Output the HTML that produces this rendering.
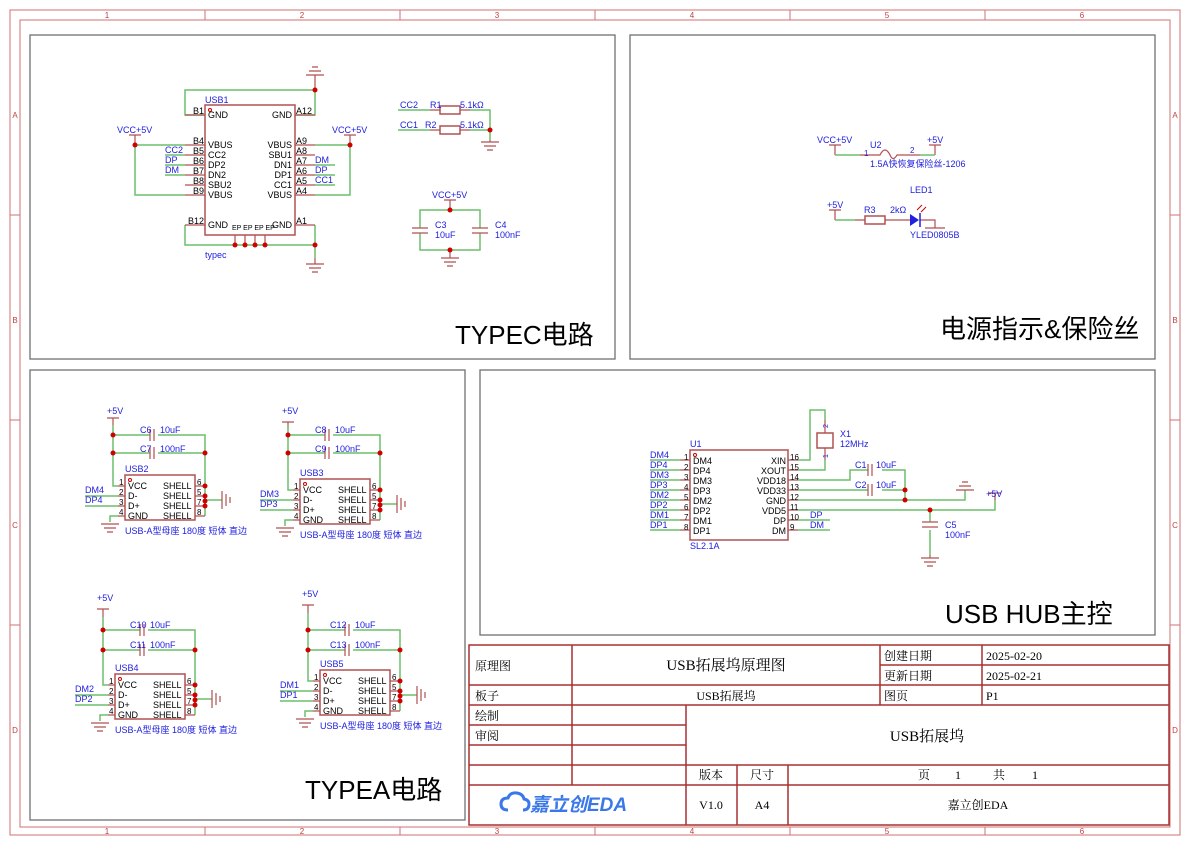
<!DOCTYPE html>
<html><head><meta charset="utf-8"><style>
html,body{margin:0;padding:0;background:#fff}
svg{display:block}
text{font-family:"Liberation Sans","Noto Sans CJK SC",sans-serif}
.b{fill:#2020e0;font-size:9px}
.k{fill:#000;font-size:9px}
.w{stroke:#6cbf6c;stroke-width:1.5;fill:none}
.p{stroke:#b05050;stroke-width:1.2;fill:none}
.bx{stroke:#b05050;stroke-width:1.5;fill:#fff}
.j{fill:#d00000}
.g{stroke:#b05050;stroke-width:1.2;fill:none}
.t text{fill:#000;font-family:"Liberation Serif","Noto Serif CJK SC",serif;font-size:12px}
</style></head><body>
<svg width="1190" height="845" viewBox="0 0 1190 845" xmlns="http://www.w3.org/2000/svg">
<rect x="10" y="10" width="1170" height="825" fill="none" stroke="#d07070" stroke-width="1"/>
<rect x="20" y="20" width="1150" height="807" fill="none" stroke="#d07070" stroke-width="1"/>
<g stroke="#d07070" stroke-width="1">
<line x1="205" y1="10" x2="205" y2="20"/><line x1="400" y1="10" x2="400" y2="20"/><line x1="595" y1="10" x2="595" y2="20"/><line x1="790" y1="10" x2="790" y2="20"/><line x1="985" y1="10" x2="985" y2="20"/>
<line x1="205" y1="827" x2="205" y2="835"/><line x1="400" y1="827" x2="400" y2="835"/><line x1="595" y1="827" x2="595" y2="835"/><line x1="790" y1="827" x2="790" y2="835"/><line x1="985" y1="827" x2="985" y2="835"/>
<line x1="10" y1="215" x2="20" y2="215"/><line x1="10" y1="420" x2="20" y2="420"/><line x1="10" y1="625" x2="20" y2="625"/>
<line x1="1170" y1="215" x2="1180" y2="215"/><line x1="1170" y1="420" x2="1180" y2="420"/><line x1="1170" y1="625" x2="1180" y2="625"/>
</g>
<g fill="#c04040" font-size="8" font-family="Liberation Sans,sans-serif" text-anchor="middle">
<text x="107" y="18">1</text><text x="302" y="18">2</text><text x="497" y="18">3</text><text x="692" y="18">4</text><text x="887" y="18">5</text><text x="1082" y="18">6</text>
<text x="107" y="834">1</text><text x="302" y="834">2</text><text x="497" y="834">3</text><text x="692" y="834">4</text><text x="887" y="834">5</text><text x="1082" y="834">6</text>
<text x="15" y="118">A</text><text x="15" y="323">B</text><text x="15" y="528">C</text><text x="15" y="733">D</text>
<text x="1175" y="118">A</text><text x="1175" y="323">B</text><text x="1175" y="528">C</text><text x="1175" y="733">D</text>
</g>
<g fill="none" stroke="#707070" stroke-width="1.3">
<rect x="30" y="35" width="585" height="324"/>
<rect x="630" y="35" width="525" height="324"/>
<rect x="30" y="370" width="435" height="450"/>
<rect x="480" y="370" width="675" height="265"/>
</g>
<g font-size="26" fill="#000">
<text x="455" y="344">TYPEC电路</text>
<text x="940" y="338">电源指示&amp;保险丝</text>
<text x="945" y="623">USB HUB主控</text>
<text x="305" y="799">TYPEA电路</text>
</g>

<g>
<path class="w" d="M315 90 V115 H295 M315 90 H185 V115 H205"/>
<path class="g" d="M315 75 V90 M306 75 H324 M309 71 H321 M312 67 H318"/>
<path class="w" d="M135 145 H185 M135 145 V195 H185 M165 155 H185 M165 165 H185 M165 175 H185"/>
<path class="g" d="M135 135 V145 M129 135 H141"/>
<path class="w" d="M315 145 H350 V195 H315 M315 165 H335 M315 175 H335 M315 185 H335"/>
<path class="g" d="M350 135 V145 M344 135 H356"/>
<path class="w" d="M185 225 V245 H315 V225 H315 M315 245 V258"/>
<path class="g" d="M315 258 V264 M306 264 H324 M309 268 H321 M312 272 H318"/>
<path class="p" d="M185 115 H205 M185 145 H205 M185 155 H205 M185 165 H205 M185 175 H205 M185 185 H205 M185 195 H205 M185 225 H205 M295 115 H315 M295 145 H315 M295 155 H315 M295 165 H315 M295 175 H315 M295 185 H315 M295 195 H315 M295 225 H315 M235 235 V245 M245 235 V245 M255 235 V245 M265 235 V245"/>
<rect class="bx" x="205" y="105" width="90" height="130"/>
<circle cx="210" cy="110" r="1.5" fill="none" stroke="#c00"/>
<g class="j"><circle cx="315" cy="90" r="2.5"/><circle cx="135" cy="145" r="2.5"/><circle cx="350" cy="145" r="2.5"/><circle cx="315" cy="245" r="2.5"/><circle cx="235" cy="245" r="2.5"/><circle cx="245" cy="245" r="2.5"/><circle cx="255" cy="245" r="2.5"/><circle cx="265" cy="245" r="2.5"/></g>
<g class="k"><text x="208" y="118">GND</text><text x="208" y="148">VBUS</text><text x="208" y="158">CC2</text><text x="208" y="168">DP2</text><text x="208" y="178">DN2</text><text x="208" y="188">SBU2</text><text x="208" y="198">VBUS</text><text x="208" y="228">GND</text>
<text x="292" y="118" text-anchor="end">GND</text><text x="292" y="148" text-anchor="end">VBUS</text><text x="292" y="158" text-anchor="end">SBU1</text><text x="292" y="168" text-anchor="end">DN1</text><text x="292" y="178" text-anchor="end">DP1</text><text x="292" y="188" text-anchor="end">CC1</text><text x="292" y="198" text-anchor="end">VBUS</text><text x="292" y="228" text-anchor="end">GND</text>
<text x="193" y="114">B1</text><text x="193" y="144">B4</text><text x="193" y="154">B5</text><text x="193" y="164">B6</text><text x="193" y="174">B7</text><text x="193" y="184">B8</text><text x="193" y="194">B9</text><text x="188" y="224">B12</text>
<text x="296" y="114">A12</text><text x="296" y="144">A9</text><text x="296" y="154">A8</text><text x="296" y="164">A7</text><text x="296" y="174">A6</text><text x="296" y="184">A5</text><text x="296" y="194">A4</text><text x="296" y="224">A1</text>
<text x="232" y="230" font-size="7">EP EP EP EP</text></g>
<g class="b"><text x="205" y="103">USB1</text><text x="205" y="258">typec</text><text x="117" y="133">VCC+5V</text><text x="332" y="133">VCC+5V</text>
<text x="165" y="153">CC2</text><text x="165" y="163">DP</text><text x="165" y="173">DM</text><text x="315" y="163">DM</text><text x="315" y="173">DP</text><text x="315" y="183">CC1</text></g>
<path class="w" d="M398 110 H430 M398 130 H430 M470 110 H490 V130 M470 130 H490 V140"/>
<path class="p" d="M430 110 H440 M460 110 H470 M430 130 H440 M460 130 H470"/>
<rect x="440" y="106" width="20" height="8" class="bx"/><rect x="440" y="126" width="20" height="8" class="bx"/>
<path class="g" d="M490 140 V142 M481 142 H499 M484 146 H496 M487 150 H493"/>
<circle class="j" cx="490" cy="130" r="2.5"/>
<g class="b"><text x="400" y="108">CC2</text><text x="430" y="108">R1</text><text x="460" y="108">5.1kΩ</text><text x="400" y="128">CC1</text><text x="425" y="128">R2</text><text x="460" y="128">5.1kΩ</text></g>
<path class="w" d="M420 228 V210 H480 V228 M420 233 V250 H480 V233"/>
<path class="g" d="M450 200 V210 M444 200 H456 M412 228 H428 M412 233 H428 M472 228 H488 M472 233 H488 M450 250 V258 M441 258 H459 M444 262 H456 M447 266 H453"/>
<circle class="j" cx="450" cy="210" r="2.5"/><circle class="j" cx="450" cy="250" r="2.5"/>
<g class="b"><text x="432" y="198">VCC+5V</text><text x="435" y="228">C3</text><text x="435" y="238">10uF</text><text x="495" y="228">C4</text><text x="495" y="238">100nF</text></g>
</g>

<g>
<path class="g" d="M835 145 V155 M829 145 H841 M935 145 V155 M929 145 H941"/>
<path class="w" d="M835 155 H860 M920 155 H935"/>
<path class="p" d="M860 155 H880 Q885 145 890 155 Q893 162 897 155 H920"/>
<g class="b"><text x="817" y="143">VCC+5V</text><text x="927" y="143">+5V</text><text x="870" y="148">U2</text><text x="864" y="156" font-size="8">1</text><text x="910" y="153" font-size="8">2</text><text x="870" y="167">1.5A快恢复保险丝-1206</text></g>
<path class="g" d="M835 210 V220 M829 210 H841"/>
<path class="w" d="M835 220 H855"/>
<path class="p" d="M855 220 H865 M885 220 H910 M920 220 H935 V228 M925 228 H945"/>
<rect x="865" y="216" width="20" height="8" class="bx"/>
<path d="M910 214 L919 220 L910 226 Z" fill="#2020e0"/><path d="M920 213 V227" stroke="#2020e0" stroke-width="1.5"/>
<path d="M917 210 l5 -5 M921 212 l5 -5" stroke="#c00" stroke-width="1"/>
<g class="b"><text x="827" y="208">+5V</text><text x="864" y="213">R3</text><text x="890" y="213">2kΩ</text><text x="910" y="193">LED1</text><text x="910" y="238">YLED0805B</text></g>
</g>

<g>
<path class="w" d="M650 460 H680 M650 470 H680 M650 480 H680 M650 490 H680 M650 500 H680 M650 510 H680 M650 520 H680 M650 530 H680"/>
<path class="p" d="M680 460 H690 M680 470 H690 M680 480 H690 M680 490 H690 M680 500 H690 M680 510 H690 M680 520 H690 M680 530 H690 M788 460 H798 M788 470 H798 M788 480 H798 M788 490 H798 M788 500 H798 M788 510 H798 M788 520 H798 M788 530 H798"/>
<rect class="bx" x="690" y="450" width="98" height="90"/>
<circle cx="695" cy="455" r="1.5" fill="none" stroke="#c00"/>
<g class="k"><text x="693" y="464">DM4</text><text x="693" y="474">DP4</text><text x="693" y="484">DM3</text><text x="693" y="494">DP3</text><text x="693" y="504">DM2</text><text x="693" y="514">DP2</text><text x="693" y="524">DM1</text><text x="693" y="534">DP1</text>
<g text-anchor="end"><text x="786" y="464">XIN</text><text x="786" y="474">XOUT</text><text x="786" y="484">VDD18</text><text x="786" y="494">VDD33</text><text x="786" y="504">GND</text><text x="786" y="514">VDD5</text><text x="786" y="524">DP</text><text x="786" y="534">DM</text></g>
<g font-size="8"><text x="684" y="460">1</text><text x="684" y="470">2</text><text x="684" y="480">3</text><text x="684" y="490">4</text><text x="684" y="500">5</text><text x="684" y="510">6</text><text x="684" y="520">7</text><text x="684" y="530">8</text>
<text x="790" y="460">16</text><text x="790" y="470">15</text><text x="790" y="480">14</text><text x="790" y="490">13</text><text x="790" y="500">12</text><text x="790" y="510">11</text><text x="790" y="520">10</text><text x="790" y="530">9</text></g></g>
<g class="b"><text x="690" y="447">U1</text><text x="690" y="549">SL2.1A</text>
<text x="650" y="458">DM4</text><text x="650" y="468">DP4</text><text x="650" y="478">DM3</text><text x="650" y="488">DP3</text><text x="650" y="498">DM2</text><text x="650" y="508">DP2</text><text x="650" y="518">DM1</text><text x="650" y="528">DP1</text>
<text x="810" y="518">DP</text><text x="810" y="528">DM</text></g>
<path class="w" d="M798 460 H810 V410 H825 V420 M798 470 H825 V460 M798 480 H850 V470 H868 M882 470 H905 V500 M798 490 H868 M882 490 H905 M798 500 H965 V490 M798 510 H995 V500 M930 510 V522 M930 530 V555 M798 520 H830 M798 530 H830"/>
<path class="p" d="M825 420 V433 M825 448 V460 M868 464 V476 M872 464 V476 M868 484 V496 M872 484 V496 M922 522 H938 M922 527 H938 M995 493 V500 M989 493 H1001"/>
<rect x="817" y="433" width="16" height="15" fill="#fff" stroke="#b05050" stroke-width="1.5"/>
<path class="g" d="M956 490 H974 M959 486 H971 M962 482 H968 M930 555 V558 M921 558 H939 M924 562 H936 M927 566 H933"/>
<g class="j"><circle cx="905" cy="490" r="2.5"/><circle cx="905" cy="500" r="2.5"/><circle cx="930" cy="510" r="2.5"/></g>
<g class="b"><text x="840" y="437">X1</text><text x="840" y="447">12MHz</text><text x="855" y="468">C1</text><text x="876" y="468">10uF</text><text x="855" y="488">C2</text><text x="876" y="488">10uF</text><text x="986" y="497">+5V</text><text x="945" y="528">C5</text><text x="945" y="538">100nF</text>
<text x="828" y="428" font-size="7" transform="rotate(-90 828 428)">2</text><text x="828" y="458" font-size="7" transform="rotate(-90 828 458)">1</text></g>
</g>

<g>
<path class="g" d="M113 418 V425 M107 418 H119"/>
<path class="w" d="M113 425 V486 H118 M113 435 H150 M158 435 H205 V516 M113 453 H150 M158 453 H205 M205 500 H222 M85 496 H118 M85 506 H118 M118 516 H110 V522"/>
<path class="p" d="M150 429 V441 M154 429 V441 M150 447 V459 M154 447 V459 M118 486 H125 M118 496 H125 M118 506 H125 M118 516 H125 M195 486 H205 M195 496 H205 M195 506 H205 M195 516 H205"/>
<path class="g" d="M222 491 V509 M226 494 V506 M230 497 V503 M101 524 H119 M104 528 H116 M107 532 H113"/>
<rect class="bx" x="125" y="475" width="70" height="45"/>
<circle cx="130" cy="480" r="1.5" fill="none" stroke="#c00"/>
<g class="j"><circle cx="113" cy="435" r="2.5"/><circle cx="113" cy="453" r="2.5"/><circle cx="205" cy="453" r="2.5"/><circle cx="205" cy="486" r="2.5"/><circle cx="205" cy="496" r="2.5"/><circle cx="205" cy="501" r="2.5"/><circle cx="205" cy="506" r="2.5"/></g>
<g class="k"><text x="128" y="489">VCC</text><text x="128" y="499">D-</text><text x="128" y="509">D+</text><text x="128" y="519">GND</text><text x="163" y="489">SHELL</text><text x="163" y="499">SHELL</text><text x="163" y="509">SHELL</text><text x="163" y="519">SHELL</text>
<g font-size="8"><text x="119" y="485">1</text><text x="119" y="495">2</text><text x="119" y="505">3</text><text x="119" y="515">4</text><text x="197" y="485">6</text><text x="197" y="495">5</text><text x="197" y="505">7</text><text x="197" y="515">8</text></g></g>
<g class="b"><text x="107" y="414">+5V</text><text x="140" y="433">C6</text><text x="160" y="433">10uF</text><text x="140" y="452">C7</text><text x="160" y="452">100nF</text><text x="125" y="472">USB2</text><text x="125" y="534">USB-A型母座 180度 短体 直边</text><text x="85" y="493">DM4</text><text x="85" y="503">DP4</text></g>
</g>
<g transform="translate(175,4)">
<path class="g" d="M113 418 V425 M107 418 H119"/>
<path class="w" d="M113 421 V486 H118 M113 431 H150 M158 431 H205 V516 M113 449 H150 M158 449 H205 M205 500 H222 M85 496 H118 M85 506 H118 M118 516 H110 V522"/>
<path class="p" d="M150 425 V437 M154 425 V437 M150 443 V455 M154 443 V455 M118 486 H125 M118 496 H125 M118 506 H125 M118 516 H125 M195 486 H205 M195 496 H205 M195 506 H205 M195 516 H205"/>
<path class="g" d="M222 491 V509 M226 494 V506 M230 497 V503 M101 524 H119 M104 528 H116 M107 532 H113"/>
<rect class="bx" x="125" y="475" width="70" height="45"/>
<circle cx="130" cy="480" r="1.5" fill="none" stroke="#c00"/>
<g class="j"><circle cx="113" cy="431" r="2.5"/><circle cx="113" cy="449" r="2.5"/><circle cx="205" cy="449" r="2.5"/><circle cx="205" cy="486" r="2.5"/><circle cx="205" cy="496" r="2.5"/><circle cx="205" cy="501" r="2.5"/><circle cx="205" cy="506" r="2.5"/></g>
<g class="k"><text x="128" y="489">VCC</text><text x="128" y="499">D-</text><text x="128" y="509">D+</text><text x="128" y="519">GND</text><text x="163" y="489">SHELL</text><text x="163" y="499">SHELL</text><text x="163" y="509">SHELL</text><text x="163" y="519">SHELL</text>
<g font-size="8"><text x="119" y="485">1</text><text x="119" y="495">2</text><text x="119" y="505">3</text><text x="119" y="515">4</text><text x="197" y="485">6</text><text x="197" y="495">5</text><text x="197" y="505">7</text><text x="197" y="515">8</text></g></g>
<g class="b"><text x="107" y="410">+5V</text><text x="140" y="429">C8</text><text x="160" y="429">10uF</text><text x="140" y="448">C9</text><text x="160" y="448">100nF</text><text x="125" y="472">USB3</text><text x="125" y="534">USB-A型母座 180度 短体 直边</text><text x="85" y="493">DM3</text><text x="85" y="503">DP3</text></g>
</g>
<g transform="translate(-10,199)">
<path class="g" d="M113 410 V418 M107 410 H119"/>
<path class="w" d="M113 418 V486 H118 M113 431 H150 M158 431 H205 V516 M113 451 H150 M158 451 H205 M205 500 H222 M85 496 H118 M85 506 H118 M118 516 H110 V522"/>
<path class="p" d="M150 425 V437 M154 425 V437 M150 445 V457 M154 445 V457 M118 486 H125 M118 496 H125 M118 506 H125 M118 516 H125 M195 486 H205 M195 496 H205 M195 506 H205 M195 516 H205"/>
<path class="g" d="M222 491 V509 M226 494 V506 M230 497 V503 M101 524 H119 M104 528 H116 M107 532 H113"/>
<rect class="bx" x="125" y="475" width="70" height="45"/>
<circle cx="130" cy="480" r="1.5" fill="none" stroke="#c00"/>
<g class="j"><circle cx="113" cy="431" r="2.5"/><circle cx="113" cy="451" r="2.5"/><circle cx="205" cy="451" r="2.5"/><circle cx="205" cy="486" r="2.5"/><circle cx="205" cy="496" r="2.5"/><circle cx="205" cy="501" r="2.5"/><circle cx="205" cy="506" r="2.5"/></g>
<g class="k"><text x="128" y="489">VCC</text><text x="128" y="499">D-</text><text x="128" y="509">D+</text><text x="128" y="519">GND</text><text x="163" y="489">SHELL</text><text x="163" y="499">SHELL</text><text x="163" y="509">SHELL</text><text x="163" y="519">SHELL</text>
<g font-size="8"><text x="119" y="485">1</text><text x="119" y="495">2</text><text x="119" y="505">3</text><text x="119" y="515">4</text><text x="197" y="485">6</text><text x="197" y="495">5</text><text x="197" y="505">7</text><text x="197" y="515">8</text></g></g>
<g class="b"><text x="107" y="402">+5V</text><text x="140" y="429">C10</text><text x="160" y="429">10uF</text><text x="140" y="449">C11</text><text x="160" y="449">100nF</text><text x="125" y="472">USB4</text><text x="125" y="534">USB-A型母座 180度 短体 直边</text><text x="85" y="493">DM2</text><text x="85" y="503">DP2</text></g>
</g>
<g transform="translate(195,195)">
<path class="g" d="M113 410 V418 M107 410 H119"/>
<path class="w" d="M113 418 V486 H118 M113 435 H150 M158 435 H205 V516 M113 455 H150 M158 455 H205 M205 500 H222 M85 496 H118 M85 506 H118 M118 516 H110 V522"/>
<path class="p" d="M150 429 V441 M154 429 V441 M150 449 V461 M154 449 V461 M118 486 H125 M118 496 H125 M118 506 H125 M118 516 H125 M195 486 H205 M195 496 H205 M195 506 H205 M195 516 H205"/>
<path class="g" d="M222 491 V509 M226 494 V506 M230 497 V503 M101 524 H119 M104 528 H116 M107 532 H113"/>
<rect class="bx" x="125" y="475" width="70" height="45"/>
<circle cx="130" cy="480" r="1.5" fill="none" stroke="#c00"/>
<g class="j"><circle cx="113" cy="435" r="2.5"/><circle cx="113" cy="455" r="2.5"/><circle cx="205" cy="455" r="2.5"/><circle cx="205" cy="486" r="2.5"/><circle cx="205" cy="496" r="2.5"/><circle cx="205" cy="501" r="2.5"/><circle cx="205" cy="506" r="2.5"/></g>
<g class="k"><text x="128" y="489">VCC</text><text x="128" y="499">D-</text><text x="128" y="509">D+</text><text x="128" y="519">GND</text><text x="163" y="489">SHELL</text><text x="163" y="499">SHELL</text><text x="163" y="509">SHELL</text><text x="163" y="519">SHELL</text>
<g font-size="8"><text x="119" y="485">1</text><text x="119" y="495">2</text><text x="119" y="505">3</text><text x="119" y="515">4</text><text x="197" y="485">6</text><text x="197" y="495">5</text><text x="197" y="505">7</text><text x="197" y="515">8</text></g></g>
<g class="b"><text x="107" y="402">+5V</text><text x="135" y="433">C12</text><text x="160" y="433">10uF</text><text x="135" y="453">C13</text><text x="160" y="453">100nF</text><text x="125" y="472">USB5</text><text x="125" y="534">USB-A型母座 180度 短体 直边</text><text x="85" y="493">DM1</text><text x="85" y="503">DP1</text></g>
</g>

<g stroke="#a83030" stroke-width="1.5" fill="none">
<rect x="469" y="645" width="700" height="180"/>
<path d="M469 685 H1169 M469 705 H1169 M469 725 H686 M469 745 H686 M469 765 H1169 M469 785 H1169 M880 665 H1169 M572 645 V785 M880 645 V705 M982 645 V705 M686 705 V825 M737 765 V825 M788 765 V825"/>
</g>
<g class="t">
<text x="475" y="670">原理图</text><text x="726" y="670" text-anchor="middle" style="font-size:15px">USB拓展坞原理图</text>
<text x="884" y="660">创建日期</text><text x="986" y="660">2025-02-20</text>
<text x="884" y="680">更新日期</text><text x="986" y="680">2025-02-21</text>
<text x="475" y="700">板子</text><text x="726" y="700" text-anchor="middle">USB拓展坞</text><text x="884" y="700">图页</text><text x="986" y="700">P1</text>
<text x="475" y="720">绘制</text><text x="475" y="740">审阅</text>
<text x="927" y="741" text-anchor="middle" style="font-size:15px">USB拓展坞</text>
<text x="711" y="779" text-anchor="middle">版本</text><text x="762" y="779" text-anchor="middle">尺寸</text>
<text x="918" y="779">页</text><text x="955" y="779">1</text><text x="993" y="779">共</text><text x="1032" y="779">1</text>
<text x="711" y="809" text-anchor="middle">V1.0</text><text x="762" y="809" text-anchor="middle">A4</text><text x="978" y="809" text-anchor="middle">嘉立创EDA</text>
</g>
<g>
<path d="M508 810 q-7 0 -7 -6 q0 -6 7 -6 q2 -6 9 -5 q6 1 7 6 q5 1 5 5 q0 6 -6 6" fill="none" stroke="#3a78e8" stroke-width="3"/>
<text x="530" y="811" font-size="19" font-weight="bold" font-style="italic" fill="#3a78e8">嘉立创EDA</text>
</g>
</svg>
</body></html>
